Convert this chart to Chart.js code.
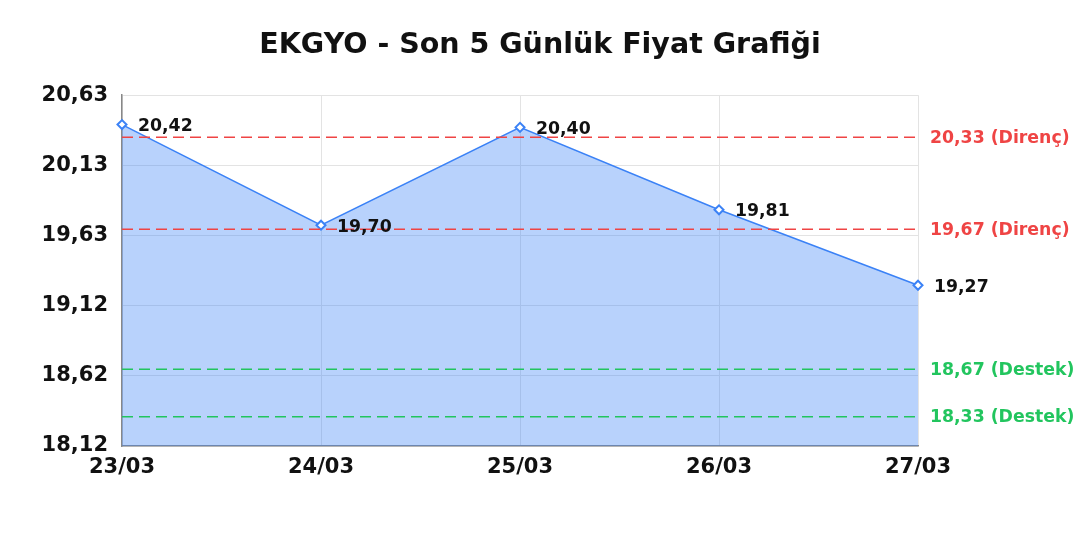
<!DOCTYPE html>
<html>
<head>
<meta charset="utf-8">
<script src="https://cdn.jsdelivr.net/npm/chart.js@4.4.1/dist/chart.umd.min.js"></script>
<style>
    body { margin: 0; background: #fff; }
    #wrap { width: 1080px; height: 540px; }
</style>
</head>
<body>
<div id="wrap"><canvas id="chart_price"></canvas></div>
<script>
const days = ['23/03', '24/03', '25/03', '26/03', '27/03'];
const prices = [20.42, 19.70, 20.40, 19.81, 19.27];
const resistance = [20.33, 19.67];
const support = [18.67, 18.33];
const yMin = 18.12;
const yMax = 20.63;

const FONT = '"DejaVu Sans", Verdana, sans-serif';
const fmt = (v) => v.toFixed(2).replace('.', ',');

const levels = [
    ...resistance.map(v => ({ value: v, text: fmt(v) + ' (Direnç)', color: '#ef4444' })),
    ...support.map(v => ({ value: v, text: fmt(v) + ' (Destek)', color: '#22c55e' }))
];

// dashed support / resistance lines with their labels on the right
const levelLines = {
    id: 'levelLines',
    afterDatasetsDraw(chart) {
        const { ctx, chartArea, scales } = chart;
        ctx.save();
        levels.forEach(l => {
            const y = scales.y.getPixelForValue(l.value);
            ctx.strokeStyle = l.color;
            ctx.lineWidth = 1.5;
            ctx.setLineDash([11, 6]);
            ctx.beginPath();
            ctx.moveTo(chartArea.left, y);
            ctx.lineTo(chartArea.right, y);
            ctx.stroke();
            ctx.setLineDash([]);
            ctx.fillStyle = l.color;
            ctx.font = 'bold 17.3px ' + FONT;
            ctx.textAlign = 'left';
            ctx.textBaseline = 'middle';
            ctx.fillText(l.text, chartArea.right + 12, y + 1);
        });
        ctx.restore();
    }
};

// value labels next to each point
const pointLabels = {
    id: 'pointLabels',
    afterDraw(chart) {
        const { ctx } = chart;
        const meta = chart.getDatasetMeta(0);
        ctx.save();
        ctx.fillStyle = '#111';
        ctx.font = 'bold 17.3px ' + FONT;
        ctx.textAlign = 'left';
        ctx.textBaseline = 'middle';
        meta.data.forEach((pt, i) => {
            ctx.fillText(fmt(prices[i]), pt.x + 16, pt.y + 2);
        });
        ctx.restore();
    }
};

new Chart(document.getElementById('chart_price'), {
    type: 'line',
    data: {
        labels: days,
        datasets: [{
            data: prices,
            borderColor: '#3b82f6',
            borderWidth: 1.5,
            backgroundColor: 'rgba(59,130,246,0.36)',
            fill: 'start',
            tension: 0,
            pointStyle: 'rectRot',
            pointRadius: 4.5,
            pointBorderWidth: 2,
            pointBackgroundColor: '#fff',
            pointBorderColor: '#3b82f6'
        }]
    },
    plugins: [levelLines, pointLabels],
    options: {
        responsive: true,
        maintainAspectRatio: false,
        animation: false,
        layout: { padding: { left: 0, right: 0, top: 0, bottom: 64 } },
        plugins: {
            legend: { display: false },
            tooltip: { enabled: false },
            title: {
                display: true,
                text: 'EKGYO - Son 5 Günlük Fiyat Grafiği',
                color: '#111',
                font: { family: FONT, size: 28.5, weight: 'bold' },
                padding: { top: 28, bottom: 33 }
            }
        },
        scales: {
            x: {
                grid: { color: '#e3e3e3', drawTicks: false },
                border: { color: '#888', width: 1.5 },
                ticks: {
                    color: '#111',
                    padding: 9,
                    maxRotation: 0,
                    font: { family: FONT, size: 21, weight: 'bold' }
                },
                afterFit: (scale) => { scale.height = 30; }
            },
            y: {
                min: yMin,
                max: yMax,
                grid: { color: '#e3e3e3', drawTicks: false },
                border: { color: '#888', width: 1.5 },
                afterBuildTicks: (scale) => {
                    scale.ticks = [0, 1, 2, 3, 4, 5].map(i => ({ value: yMin + i * (yMax - yMin) / 5 }));
                },
                ticks: {
                    color: '#111',
                    padding: 14,
                    font: { family: FONT, size: 21, weight: 'bold' },
                    callback: (v) => fmt(v)
                },
                afterFit: (scale) => { scale.width = 122; }
            },
            // empty right axis, only reserves room for the level labels
            yRight: {
                position: 'right',
                display: true,
                grid: { display: false },
                border: { display: false },
                ticks: { display: false },
                afterFit: (scale) => { scale.width = 162; }
            }
        }
    }
});
</script>
</body>
</html>
